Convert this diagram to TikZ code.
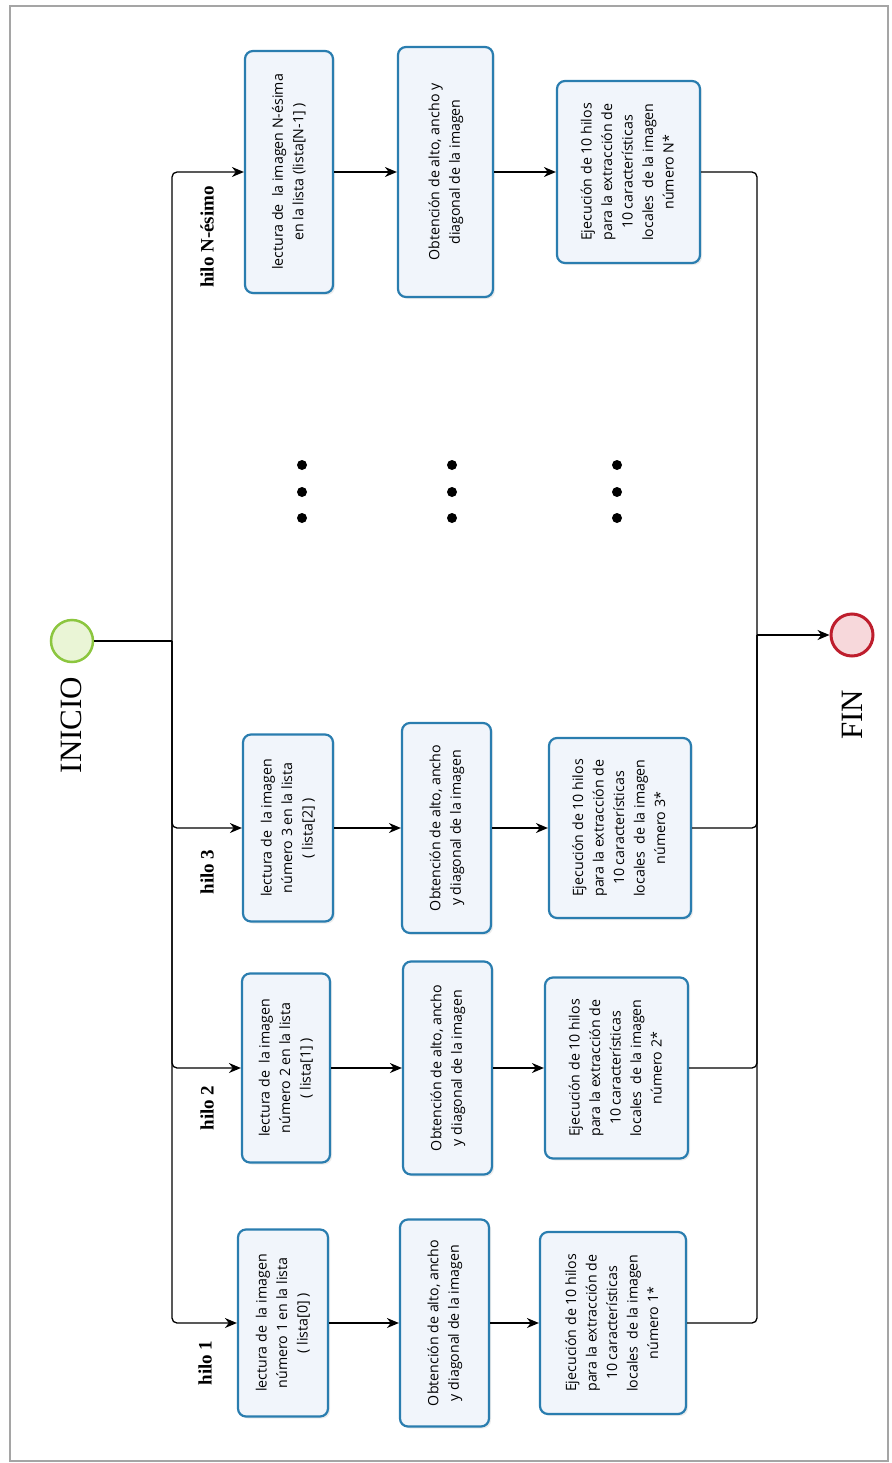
\documentclass[tikz,border=0pt]{standalone}
\usepackage{fontspec}
\setmainfont{Liberation Serif}
\newfontfamily\boxfont{Open Sans}
\usetikzlibrary{arrows.meta,shadows}
\definecolor{boxblue}{RGB}{42,125,175}
\definecolor{boxfill}{RGB}{241,245,251}
\definecolor{startgreen}{RGB}{140,198,63}
\definecolor{startfill}{RGB}{234,245,214}
\definecolor{endred}{RGB}{190,30,45}
\definecolor{endfill}{RGB}{247,216,219}
\definecolor{framegray}{RGB}{165,165,165}
\newcommand{\rt}[1]{\rotatebox{90}{\boxfont\fontsize{14.2}{20.5}\selectfont\begin{tabular}{@{}c@{}}#1\end{tabular}}}
\begin{document}
\begin{tikzpicture}[x=1pt,y=-1pt,
  procbox/.style={draw=boxblue, line width=2.2pt, rounded corners=8pt, fill=boxfill, inner sep=0pt,
    drop shadow={opacity=0.15,shadow xshift=2pt,shadow yshift=-2pt}},
  conn/.style={line width=1.3pt, black},
  arr/.style={conn, -{Stealth[length=12pt,width=10pt]}},
  hilolabel/.style={rotate=90, font=\fontsize{19}{22}\selectfont\bfseries, inner sep=0pt},
  bigtitle/.style={rotate=90, font=\fontsize{31}{34}\selectfont, inner sep=0pt},
  dotmark/.style={circle, fill=black, inner sep=0pt, minimum size=10pt}]
\useasboundingbox (0,0) rectangle (891,1463);
\draw[framegray, line width=1.5pt] (10,6) rectangle (888,1461);

% start / end
\node[circle, draw=startgreen, line width=2.5pt, fill=startfill, minimum size=42pt, inner sep=0pt] (ini) at (72,641) {};
\node[bigtitle] (initxt) at (71,725) {INICIO};
\node[circle, draw=endred, line width=3pt, fill=endfill, minimum size=42pt, inner sep=0pt] (fin) at (852,635) {};
\node[bigtitle] (fintxt) at (852,715) {FIN};

% hilo N
\node[procbox, minimum width=88pt, minimum height=242pt] (aN) at (289,172) {\rt{lectura de \ la imagen N-ésima\\en la lista (lista[N-1] )}};
\node[procbox, minimum width=95pt, minimum height=250pt] (bN) at (445.5,172) {\rt{Obtención de alto, ancho y\\diagonal de la imagen}};
\node[procbox, minimum width=143pt, minimum height=182pt] (cN) at (628.5,172) {\rt{Ejecución de 10 hilos\\para la extracción de\\10 características\\locales \ de la imagen\\número N*}};
\node[hilolabel] (lN) at (207,237) {hilo N-ésimo};

% hilo 3
\node[procbox, minimum width=90pt, minimum height=187pt] (a3) at (288,828) {\rt{lectura de \ la imagen\\número 3 en la lista\\( lista[2] )}};
\node[procbox, minimum width=89pt, minimum height=210pt] (b3) at (446.5,828) {\rt{Obtención de alto, ancho\\y diagonal de la imagen}};
\node[procbox, minimum width=142pt, minimum height=180pt] (c3) at (620,828) {\rt{Ejecución de 10 hilos\\para la extracción de\\10 características\\locales \ de la imagen\\número 3*}};
\node[hilolabel] (l3) at (207,872) {hilo 3};

% hilo 2
\node[procbox, minimum width=88pt, minimum height=189pt] (a2) at (286,1068) {\rt{lectura de \ la imagen\\número 2 en la lista\\( lista[1] )}};
\node[procbox, minimum width=89pt, minimum height=213pt] (b2) at (447.5,1068) {\rt{Obtención de alto, ancho\\y diagonal de la imagen}};
\node[procbox, minimum width=143pt, minimum height=181pt] (c2) at (616.5,1068) {\rt{Ejecución de 10 hilos\\para la extracción de\\10 características\\locales \ de la imagen\\número 2*}};
\node[hilolabel] (l2) at (207,1108) {hilo 2};

% hilo 1
\node[procbox, minimum width=90pt, minimum height=187pt] (a1) at (283,1323) {\rt{lectura de \ la imagen\\número 1 en la lista\\( lista[0] )}};
\node[procbox, minimum width=89pt, minimum height=207pt] (b1) at (444.5,1323) {\rt{Obtención de alto, ancho\\y diagonal de la imagen}};
\node[procbox, minimum width=146pt, minimum height=182pt] (c1) at (613,1323) {\rt{Ejecución de 10 hilos\\para la extracción de\\10 características\\locales \ de la imagen\\número 1*}};
\node[hilolabel] (l1) at (205,1363) {hilo 1};

% dots
\foreach \x/\n in {302/p,452/q,617/r}{
  \node[dotmark] (\n1) at (\x,465) {};
  \node[dotmark] (\n2) at (\x,492) {};
  \node[dotmark] (\n3) at (\x,518) {};
}

% connectors
\coordinate (js) at (172,641);
\coordinate (je) at (757,635);
\draw[conn] (ini) -- (js);
\foreach \r in {N,3,2,1}{
  \draw[arr, rounded corners=5pt] (js) |- (a\r.west);
  \draw[arr] (a\r.east) -- (b\r.west);
  \draw[arr] (b\r.east) -- (c\r.west);
  \draw[conn, rounded corners=5pt] (c\r.east) -| (je);
}
\draw[arr] (je) -- (fin);
\end{tikzpicture}
\end{document}
